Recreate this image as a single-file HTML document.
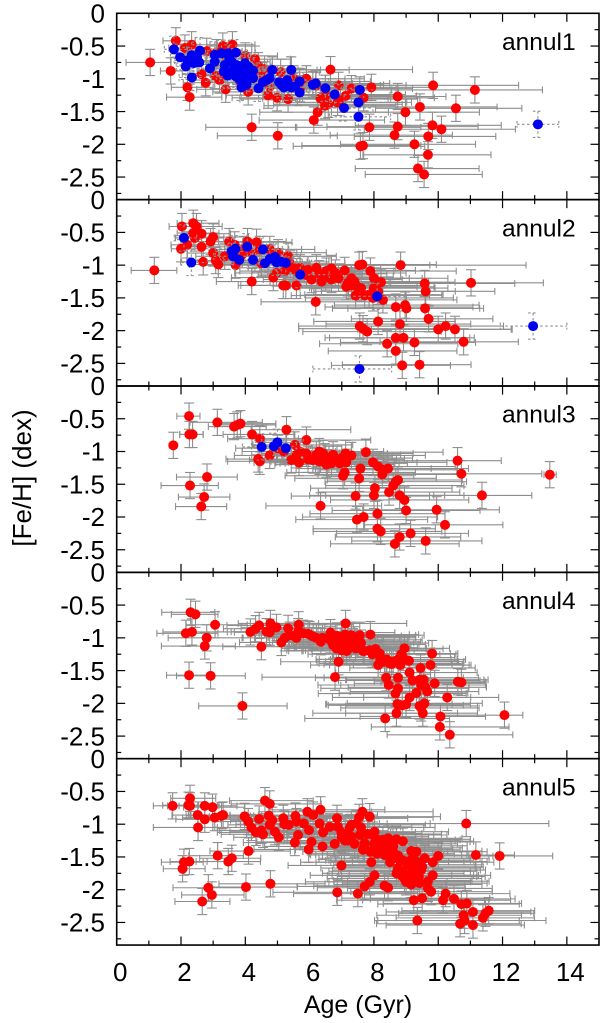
<!DOCTYPE html>
<html lang="en">
<head>
<meta charset="utf-8">
<title>Age-metallicity relation by annulus</title>
<style>
html,body{margin:0;padding:0;background:#fff;}
svg{display:block;font-family:"Liberation Sans",Arial,sans-serif;}
</style>
</head>
<body>
<svg id="chart" xmlns="http://www.w3.org/2000/svg" width="600" height="1023" viewBox="0 0 600 1023">
  <rect x="0" y="0" width="600" height="1023" fill="#fff"/>
  <g id="marks"></g>
  <g id="frames"></g>
  <text x="358" y="1013" font-size="25" text-anchor="middle" fill="#000">Age (Gyr)</text>
  <text transform="translate(31,478) rotate(-90)" font-size="26" text-anchor="middle" fill="#000">[Fe/H] (dex)</text>
</svg>
<script>
const ageTicks = [0, 2, 4, 6, 8, 10, 12, 14];
const ageMinorTicks = [1, 3, 5, 7, 9, 11, 13];
const fehTicks = [0, -0.5, -1, -1.5, -2, -2.5];
const fehMinorTicks = [-0.25, -0.75, -1.25, -1.75, -2.25, -2.75];
const fehTickLabels = ['0', '-0.5', '-1', '-1.5', '-2', '-2.5'];
const ageTickLabels = ['0', '2', '4', '6', '8', '10', '12', '14'];
const fehError = 0.2;

/* annul1 */
const a1RedAge = [
1.04,1.68,1.84,2.12,2.33,2.2,2.27,2.77,3.39,2.64,
2.8,2.5,3.05,3.3,3.6,3.7,3.2,3.85,4.09,4.2,
5.01,4.4,4.71,4.99,5.33,4.76,4.5,5.1,5.5,5.7,
5.9,6.65,6.13,6.25,6.48,6.58,6.34,6.5,6.87,6.96,
7.12,6.2,6.9,7.3,7.92,7.68,9.84,11.14,8.74,9.43,
10.55,8.98,7.86,8.74,9.82,10.1,8.64,9.69,7.58,7.66,
9.26,9.68,9.37,9.56,
3.1,3.4,4.0,4.3,4.6,4.84,5.12,5.33,5.43,5.43,
5.69,6.1,6.19,6.49,6.78,7.56,7.52,3.57,3.93,4.24];
const a1RedFeh = [
-.75,-.88,-.42,-.53,-.48,-1.13,-1.28,-1.06,-1.16,-.93,
-.58,-.72,-.95,-.5,-.48,-.85,-1.02,-1.05,-1.2,-1.74,
-1.87,-.8,-1.25,-1.29,-1.31,-1.12,-.95,-.9,-1.0,-1.15,
-1.0,-.86,-1.63,-1.51,-1.41,-1.39,-1.3,-1.25,-1.36,-1.31,
-1.26,-1.1,-1.1,-1.15,-1.13,-1.29,-1.1,-1.17,-1.27,-1.43,
-1.45,-1.51,-1.74,-1.73,-1.71,-1.77,-1.86,-1.88,-2.03,-2.02,
-2.0,-2.16,-2.37,-2.46,
-.6,-.65,-.65,-.7,-.85,-.865,-1.09,-1.07,-.865,-1.13,
-1.04,-1.09,-1.07,-1.145,-1.24,-1.17,-1.36,-.74,-.89,-.99];
const a1RedLo = [
.75,.32,.4,.5,.5,.5,.72,.7,.9,.6,
.7,.6,.8,.5,.7,.9,.9,1.0,1.1,1.43,
1.88,1.0,1.3,1.4,1.5,1.3,1.1,1.0,1.2,1.4,
1.4,1.5,1.7,1.8,1.9,1.7,1.8,1.6,1.8,1.8,
1.9,1.5,1.6,1.8,1.9,1.9,2.6,2.6,2.1,2.3,
2.5,2.3,2.3,2.2,2.4,2.4,2.0,2.3,2.09,1.9,
2.3,2.0,1.95,1.83,
.8,.8,.9,1.0,1.1,1.0,1.3,1.4,1.2,1.4,
1.5,1.6,1.6,1.7,1.8,1.9,1.9,.8,1.0,1.1];
const a1RedHi = [
.65,.6,.6,.7,.8,.8,1.0,1.0,1.2,1.0,
1.1,.9,1.2,.9,.7,1.3,1.4,1.4,1.5,1.4,
1.85,1.0,1.6,1.7,1.8,1.5,1.3,1.2,1.6,1.9,
1.8,2.55,2.2,2.2,2.2,2.3,2.1,2.0,2.3,2.4,
2.2,2.0,2.1,1.9,2.0,2.2,2.66,2.1,1.5,2.4,
2.05,2.3,1.6,2.5,2.14,2.3,1.8,2.1,2.0,1.8,
1.9,1.96,1.9,1.81,
1.1,1.0,1.0,1.1,1.3,1.5,2.0,2.0,1.8,2.2,
2.2,2.2,2.3,2.2,2.2,1.2,1.5,1.2,1.3,1.4];
const a1BlueAge = [
1.78,1.97,2.15,2.34,2.33,2.59,2.57,2.4,2.9,3.05,
3.05,3.26,3.47,3.71,3.33,3.36,3.57,3.73,3.7,3.99,
3.93,4.04,4.24,4.24,3.88,4.04,4.41,4.66,4.76,4.84,
5.43,5.12,5.33,5.43,5.69,5.69,6.1,6.19,6.49,6.78,
7.07,7.56,7.52,7.52,13.1,
3.5,3.6,3.85,4.1,4.15,3.45,3.8,2.5,2.2,5.2,
5.55,5.3,5.05,4.55];
const a1BlueFeh = [
-.55,-.67,-.81,-.98,-.64,-.57,-.75,-.76,-.84,-.635,
-.74,-.61,-.61,-.6,-.89,-.79,-.74,-.79,-.96,-.76,
-.89,-.99,-.875,-.99,-1.13,-1.09,-1.145,-1.02,-.99,-.865,
-.865,-1.09,-1.07,-1.13,-1.04,-1.21,-1.09,-1.07,-1.145,-1.24,
-1.445,-1.17,-1.36,-1.58,-1.695,
-.68,-.88,-.85,-.82,-.95,-.95,-1.0,-.68,-.72,-1.13,
-1.12,-1.02,-1.05,-1.05];
const a1BlueLo = [
.3,.3,.3,.4,.4,.4,.4,.4,.4,.5,
.5,.5,.5,.5,.5,.5,.5,.5,.6,.6,
.6,.6,.6,.6,.6,.6,.6,.6,.6,.6,
.7,.7,.7,.7,.7,.7,.8,.8,.8,.8,
.8,.9,.9,.9,.65,
.5,.5,.6,.6,.6,.5,.6,.4,.4,.7,
.7,.7,.7,.6];
const a1BlueHi = [
.4,.4,.4,.5,.5,.5,.5,.5,.6,.6,
.6,.6,.6,.6,.6,.6,.7,.7,.7,.7,
.7,.7,.7,.7,.7,.7,.7,.7,.8,.8,
.8,.8,.8,.8,.9,.9,.9,.9,.9,.9,
.9,1.0,1.0,1.0,.65,
.6,.7,.7,.7,.7,.7,.7,.5,.4,.8,
.9,.8,.8,.7];

/* annul2 */
const a2RedAge = [
1.17,2.03,2.0,2.19,2.38,2.48,2.38,2.43,2.64,2.64,
2.69,2.92,3.0,3.0,3.08,3.16,3.36,3.5,3.67,3.7,
4.07,4.35,4.2,3.95,3.9,4.2,4.45,4.5,4.76,5.02,
5.33,4.87,5.18,5.26,5.59,4.97,5.23,5.49,5.7,5.95,
6.21,6.06,6.37,6.19,6.52,6.68,6.68,6.5,7.09,7.14,
7.19,7.54,7.64,7.89,8.83,8.22,9.58,9.61,11.02,7.3,
7.47,7.43,7.71,7.85,7.97,8.13,8.28,8.68,8.97,9.01,
9.59,9.7,8.13,8.81,7.56,7.66,7.79,10.0,10.23,10.52,
8.68,8.92,8.41,9.26,8.68,10.79,8.88,9.42,
5.6,5.9,6.3,6.8,6.9,7.3,7.6,8.0,7.4,8.0,
5.0,5.4];
const a2RedFeh = [
-1.08,-.41,-.75,-.69,-.36,-.41,-.51,-.585,-.52,-.72,
-.95,-.64,-.57,-.815,-.93,-.99,-.865,-.64,-.69,-1.0,
-.64,-.65,-1.25,-.76,-.84,-.81,-.76,-.97,-.76,-.81,
-.865,-1.19,-1.31,-1.31,-1.31,-1.12,-1.09,-1.04,-1.04,-1.07,
-1.04,-1.22,-1.25,-1.56,-1.09,-1.05,-1.22,-1.18,-1.08,-1.33,
-1.27,-1.0,-.99,-1.09,-1.0,-1.26,-1.28,-1.4,-1.27,-1.31,
-1.33,-1.465,-1.46,-1.45,-1.5,-1.4,-1.53,-1.64,-1.61,-1.66,
-1.66,-1.82,-1.86,-1.9,-1.93,-1.97,-2.015,-1.98,-1.93,-1.98,
-2.11,-2.11,-2.2,-2.18,-2.31,-2.17,-2.53,-2.52,
-1.1,-1.15,-1.13,-1.12,-1.2,-1.2,-1.35,-1.35,-1.25,-1.2,
-.95,-.98];
const a2RedLo = [
.72,.4,.3,.5,.5,.5,.5,.6,.6,.7,
.7,.7,.8,.8,.9,.9,.9,.7,.8,1.0,
.9,.9,1.1,1.0,.9,1.0,1.0,1.2,1.0,1.1,
1.1,1.3,1.4,1.4,1.4,1.3,1.4,1.4,1.4,1.5,
1.5,1.5,1.6,1.7,1.6,1.6,1.7,1.6,1.7,1.8,
1.8,1.7,1.7,1.8,2.3,2.0,2.4,2.4,2.5,1.9,
1.9,2.0,2.0,2.0,2.1,2.0,2.1,2.2,2.2,2.3,
2.4,2.4,2.0,2.3,1.9,2.0,2.0,2.5,2.5,2.6,
2.2,2.3,2.1,2.3,2.1,2.6,2.2,2.4,
1.4,1.5,1.6,1.7,1.7,1.8,1.9,2.0,1.8,1.9,
1.2,1.3];
const a2RedHi = [
.7,.6,.6,.7,.8,.8,.8,.9,.9,1.0,
1.0,1.0,1.1,1.2,1.2,1.2,1.3,1.0,1.2,1.3,
1.2,1.1,1.5,1.2,1.3,1.4,1.3,1.5,1.4,1.5,
1.5,1.6,1.8,1.8,1.9,1.7,1.8,1.8,1.9,2.0,
2.0,2.0,2.1,2.2,2.1,2.0,2.2,2.1,2.2,2.2,
2.3,2.2,2.3,2.67,3.9,2.3,2.8,2.15,2.25,2.2,
2.4,2.3,2.4,2.3,2.5,2.4,2.3,2.4,2.3,2.4,
1.7,2.0,2.4,2.2,2.5,2.4,2.3,2.3,1.8,1.75,
2.3,2.2,2.2,1.9,1.9,1.7,1.5,1.6,
2.0,2.1,2.1,2.2,2.2,2.2,2.3,2.3,2.3,2.3,
1.6,1.7];
const a2BlueAge = [2.09,2.32,3.57,3.69,3.62,3.81,4.06,4.24,4.55,4.61,4.76,4.92,4.97,5.12,5.26,5.71,8.1,7.55,12.95];
const a2BlueFeh = [-.585,-.96,-.79,-.75,-.865,-.92,-.72,-.92,-.76,-.97,-.905,-.875,-.957,-.95,-.967,-1.145,-1.476,-2.585,-1.93];
const a2BlueLo = [.3,.3,.5,.5,.6,.5,.6,.6,.5,.7,.6,.7,.7,.7,.7,.7,.9,1.45,1.02];
const a2BlueHi = [.4,.5,.6,.6,.7,.7,.6,.7,.8,.7,.7,.8,.8,.8,.8,.9,.9,1.0,1.05];

/* annul3 */
const a3RedAge = [
1.76,2.25,2.26,2.36,3.13,3.65,3.75,3.85,2.81,2.28,
2.72,2.63,4.21,4.45,5.28,5.9,4.4,4.45,4.76,6.34,
5.54,5.43,5.67,5.7,5.9,6.1,6.21,6.42,6.47,6.52,
6.68,6.73,6.94,7.12,7.14,7.09,7.04,7.3,7.75,7.97,
8.13,8.28,8.44,8.26,7.58,7.54,10.6,10.72,13.47,8.75,
8.68,8.6,8.03,8.47,8.0,7.43,8.8,8.95,11.36,8.11,
9.0,9.95,7.68,7.47,10.21,8.11,8.21,9.14,8.8,8.65,
9.61,
5.0,5.2,5.6,6.3,6.6,6.85,6.3,7.0,6.55,5.95];
const a3RedFeh = [
-.906,-.46,-.74,-.74,-.555,-.62,-.595,-.575,-1.39,-1.52,
-1.695,-1.84,-.74,-.805,-.667,-.825,-1.115,-1.15,-1.06,-1.83,
-.9,-1.13,-1.17,-1.0,-1.03,-1.13,-1.05,-1.03,-1.08,-1.2,
-1.18,-1.05,-1.18,-1.03,-1.165,-1.32,-1.37,-1.06,-1.01,-1.165,
-1.23,-1.28,-1.26,-1.35,-1.26,-1.41,-1.14,-1.34,-1.354,-1.435,
-1.46,-1.52,-1.56,-1.62,-1.67,-1.68,-1.67,-1.74,-1.67,-1.95,
-1.9,-1.89,-2.0,-2.04,-2.12,-2.18,-2.22,-2.25,-2.305,-2.41,
-2.365,
-.95,-1.0,-1.05,-1.15,-1.12,-1.12,-1.0,-1.1,-1.17,-1.12];
const a3RedLo = [
.1,.38,.3,.4,.85,.8,.7,.8,.95,.9,
.8,.8,.9,1.0,1.1,1.3,1.0,1.0,1.1,1.7,
1.3,1.3,1.4,1.3,1.4,1.5,1.4,1.5,1.5,1.6,
1.6,1.6,1.7,1.7,1.8,1.8,1.8,1.8,1.9,2.0,
2.0,2.1,2.1,2.0,2.0,2.0,2.3,2.5,.18,2.2,
2.2,2.1,2.0,2.2,2.0,2.0,2.3,2.3,1.5,2.1,
2.3,2.3,1.9,1.9,2.5,2.0,2.1,2.3,2.0,2.0,
2.3,
1.3,1.3,1.4,1.5,1.6,1.7,1.5,1.7,1.6,1.5];
const a3RedHi = [
.1,.34,.43,.33,1.4,1.0,1.2,1.1,.94,.88,
.8,.79,1.3,1.2,2.0,2.0,1.5,1.5,1.6,1.9,
1.8,1.9,2.0,1.9,1.9,2.0,2.0,2.0,2.1,2.1,
2.1,2.1,2.1,2.1,2.2,2.2,2.2,2.3,2.4,2.3,
2.4,2.3,2.5,2.4,2.2,2.4,1.36,2.5,.2,2.0,
2.2,2.2,2.4,2.2,2.2,2.3,2.0,2.0,1.55,2.1,
2.3,1.95,2.3,2.2,1.8,1.8,1.9,1.8,1.9,2.0,
1.75,
1.5,1.6,1.9,2.0,2.1,2.1,2.0,2.2,2.1,2.0];
const a3BlueAge = [4.51,4.89,5.0,5.26];
const a3BlueFeh = [-.93,-.92,-.86,-.95];
const a3BlueLo = [.6,.7,.7,.8];
const a3BlueHi = [.7,.7,.8,.8];

/* annul4 */
const a4RedAge = [
2.3,2.45,3.06,2.15,2.34,2.8,2.74,2.25,2.92,3.91,
4.16,4.32,4.43,4.66,4.76,4.78,4.97,4.5,5.12,5.23,
5.33,5.38,5.59,5.66,5.64,5.95,6.11,6.21,6.35,6.65,
6.63,6.73,6.83,6.99,7.12,6.99,7.14,7.19,6.9,6.79,
7.3,7.56,7.89,7.35,7.43,7.66,7.87,8.05,8.18,8.13,
8.33,8.49,8.75,8.91,9.09,8.95,8.82,9.81,9.76,9.45,
9.11,8.38,8.75,8.46,8.75,8.67,9.42,9.55,9.47,9.6,
9.66,9.89,10.61,10.72,9.32,9.11,10.28,9.0,8.73,8.88,
9.42,9.57,9.52,9.47,8.7,8.35,10.07,12.06,10.05,10.36,
6.8,6.95,7.05,7.1,7.2,7.25,6.85,7.0,7.15,7.3,
7.4,7.5,7.6,7.95,8.4,8.6,8.85,8.55,8.2,9.2,
6.0,6.4,5.8,7.7];
const a4RedFeh = [
-.61,-.64,-.8,-.93,-.91,-1.0,-1.125,-1.57,-1.58,-2.04,
-.91,-.86,-.81,-.905,-.915,-.78,-.84,-1.135,-1.07,-1.0,
-.855,-.96,-1.0,-.8,-.905,-.94,-.98,-1.0,-1.06,-.92,
-1.03,-1.11,-1.16,-1.19,-.78,-1.0,-1.08,-.98,-1.365,-1.6,
-.96,-.96,-.95,-1.06,-1.16,-1.2,-1.19,-1.17,-1.24,-1.415,
-1.365,-1.39,-1.33,-1.3,-1.35,-1.16,-1.415,-1.24,-1.415,-1.46,
-1.53,-1.61,-1.61,-1.72,-1.77,-1.85,-1.64,-1.64,-1.72,-1.755,
-1.82,-1.695,-1.67,-1.68,-1.84,-1.91,-1.91,-2.015,-2.01,-2.03,
-2.04,-2.0,-2.15,-2.07,-2.15,-2.23,-2.2,-2.18,-2.36,-2.48,
-1.0,-1.05,-1.13,-.95,-1.0,-1.15,-.97,-1.15,-1.2,-1.1,
-1.03,-1.1,-1.08,-1.25,-1.33,-1.36,-1.25,-1.4,-1.33,-1.65,
-.95,-1.0,-.93,-1.2];
const a4RedLo = [
.9,.75,.9,.9,.9,1.2,1.35,.7,1.06,1.36,
1.1,1.0,1.0,1.1,1.1,1.0,1.1,1.2,1.3,1.3,
1.1,1.3,1.3,1.2,1.3,1.3,1.4,1.5,1.5,1.5,
1.6,1.6,1.7,1.7,1.6,1.7,1.7,1.7,1.8,2.27,
1.8,1.8,1.8,1.9,1.9,1.9,2.0,2.0,2.1,2.1,
2.1,2.2,2.1,2.2,2.3,2.2,2.2,2.3,2.4,2.2,
2.3,2.2,2.3,2.2,2.4,2.4,2.3,2.4,2.5,2.4,
2.4,2.5,2.6,2.5,2.4,2.4,2.6,2.5,2.2,2.3,
2.3,2.4,2.4,2.5,2.6,2.5,2.5,2.0,2.13,1.95,
1.6,1.6,1.7,1.6,1.7,1.7,1.6,1.7,1.8,1.8,
1.8,1.8,1.9,2.0,2.1,2.1,2.1,2.1,2.0,2.3,
1.4,1.5,1.3,1.9];
const a4RedHi = [
.75,.7,1.0,1.0,1.1,1.1,.95,.6,1.08,1.39,
1.4,1.5,1.4,1.4,1.5,1.5,1.5,1.5,1.6,1.7,
1.7,1.7,1.7,1.7,1.8,1.8,1.9,1.9,1.9,2.0,
2.0,2.1,2.1,2.1,1.9,2.1,2.1,2.1,2.3,2.3,
2.0,2.0,1.5,2.1,2.2,2.1,2.0,2.1,2.2,2.3,
2.3,2.3,2.1,1.6,1.5,1.4,2.2,.8,1.2,1.7,
2.1,2.4,2.5,2.5,2.2,2.2,2.0,2.0,2.0,1.9,
1.6,1.6,.85,.75,1.6,1.9,1.6,2.0,1.7,1.9,
1.8,1.8,1.7,1.8,1.9,2.0,1.4,.57,2.15,1.96,
2.0,2.1,2.1,2.0,2.1,2.1,2.0,2.1,2.1,2.1,
2.1,2.1,2.1,2.1,2.2,2.2,1.7,2.2,2.2,2.1,
1.8,1.9,1.8,2.1];

/* annul5 */
const a5RedAge = [
1.74,2.28,2.28,2.23,2.52,2.53,2.74,2.74,2.98,3.05,
3.26,3.31,3.14,2.26,2.09,2.05,3.47,3.58,2.85,2.96,
2.66,4.02,4.78,4.1,3.98,4.09,4.19,4.33,4.55,4.5,
4.43,4.61,4.76,4.73,4.84,4.76,4.92,5.04,5.18,5.21,
5.35,5.56,5.59,5.64,5.54,5.82,5.98,5.93,6.11,6.34,
6.31,6.42,6.06,5.97,6.4,6.78,6.63,6.85,6.88,6.99,
6.99,6.86,7.19,7.64,7.54,7.45,7.3,7.3,7.87,8.02,
7.97,7.56,7.71,7.66,7.89,7.92,8.13,8.28,8.44,8.59,
8.7,8.9,8.28,8.33,8.49,8.59,8.75,8.85,8.95,9.16,
9.32,9.06,9.32,9.58,10.0,9.83,9.21,9.47,9.26,9.16,
9.42,9.83,9.68,9.68,9.78,10.87,11.17,11.91,8.02,7.87,
7.71,7.5,8.33,8.44,9.24,9.5,10.23,10.15,10.49,10.72,
10.89,10.79,10.82,10.68,11.08,11.08,11.39,11.47,11.57,9.35,
7.1,7.25,7.4,7.6,7.8,8.0,8.15,8.3,8.45,8.6,
8.75,8.9,9.05,9.2,9.35,9.5,8.5,8.7,8.9,9.1,
9.3,9.0,8.8,9.15,9.4,7.0,7.2,7.7,8.1,8.6];
const a5RedFeh = [
-.72,-.605,-.72,-.71,-.86,-1.05,-.72,-.925,-.74,-.9,
-.87,-.86,-1.48,-1.57,-1.58,-1.68,-1.57,-1.52,-1.97,-2.08,
-2.18,-1.96,-1.91,-1.41,-.88,-.96,-1.05,-1.125,-1.155,-1.095,
-.92,-.64,-.69,-.87,-.94,-1.01,-1.115,-1.2,-.91,-1.0,
-1.01,-.875,-.96,-1.165,-1.28,-.99,-1.09,-.81,-.86,-.78,
-.99,-1.125,-1.27,-1.385,-1.34,-1.3,-1.04,-.91,-1.04,-1.125,
-1.63,-2.04,-1.14,-.81,-.895,-.99,-1.01,-1.19,-.885,-1.115,
-1.165,-1.165,-1.29,-1.39,-1.42,-1.58,-1.24,-1.24,-1.215,-1.27,
-1.23,-1.26,-1.39,-1.47,-1.47,-1.52,-1.67,-1.78,-1.83,-1.41,
-1.42,-1.57,-1.57,-1.52,-1.485,-1.58,-1.7,-1.7,-1.8,-1.92,
-1.9,-1.78,-1.87,-1.98,-2.03,-.99,-1.47,-1.485,-1.78,-1.88,
-1.95,-2.06,-1.94,-1.97,-2.16,-2.13,-2.06,-2.16,-2.14,-2.22,
-2.21,-2.39,-2.47,-2.52,-2.34,-2.54,-2.43,-2.36,-2.32,-2.47,
-1.25,-1.05,-1.3,-1.05,-1.15,-1.3,-1.38,-1.3,-1.36,-1.42,
-1.48,-1.55,-1.62,-1.52,-1.62,-1.65,-1.58,-1.75,-1.72,-1.78,
-1.72,-1.88,-1.55,-1.86,-1.8,-1.2,-1.25,-1.35,-1.45,-1.33];
const a5RedLo = [
.6,.6,.7,.8,.8,1.39,.8,.9,.9,1.0,
1.1,1.0,.9,.6,.7,.6,1.0,1.0,1.1,.94,
.85,1.2,1.6,1.2,1.1,1.1,1.2,1.2,1.3,1.3,
1.2,1.1,1.2,1.2,1.3,1.3,1.4,1.4,1.4,1.5,
1.5,1.4,1.5,1.6,1.6,1.5,1.6,1.5,1.6,1.6,
1.7,1.7,1.7,1.7,1.8,1.8,1.8,1.7,1.8,1.8,
1.66,2.0,1.9,1.8,1.9,1.9,1.9,2.0,2.0,2.1,
2.1,2.0,2.0,2.1,2.1,2.2,2.2,2.2,2.3,2.2,
2.3,2.3,2.2,2.3,2.3,2.3,2.4,2.3,2.4,2.4,
2.4,2.4,2.5,2.5,2.5,2.5,2.5,2.5,2.4,2.4,
2.4,2.6,2.5,2.5,2.5,2.7,1.0,.66,2.0,2.0,
2.1,2.0,2.2,2.2,2.4,2.5,2.6,2.5,2.6,2.6,
2.6,2.7,2.7,2.6,2.7,2.7,2.7,2.7,2.7,1.33,
1.9,1.8,1.9,1.9,2.0,2.0,2.1,2.1,2.1,2.2,
2.2,2.3,2.3,2.4,2.4,2.4,2.3,2.3,2.3,2.4,
2.4,2.4,2.3,2.4,2.4,1.8,1.9,2.0,2.1,2.2];
const a5RedHi = [
.8,.8,.9,.9,1.0,.6,1.0,1.1,1.0,1.1,
1.0,1.1,.8,.55,.6,.7,1.0,.9,1.2,1.0,
.86,1.6,1.7,1.3,1.5,1.5,1.6,1.6,1.7,1.7,
1.6,1.5,1.6,1.7,1.7,1.8,1.8,1.9,1.8,1.9,
1.9,1.9,2.0,2.0,2.1,2.0,2.1,2.0,2.0,2.0,
2.1,2.1,2.2,2.2,2.2,2.2,2.2,2.2,2.3,2.3,
2.3,2.5,2.3,2.2,2.3,2.3,2.3,2.4,2.2,2.3,
2.3,2.3,2.4,2.4,2.4,2.4,2.4,2.4,2.3,2.4,
2.3,2.2,2.4,2.4,2.4,2.4,2.4,2.4,2.4,2.2,
2.2,2.3,2.2,2.0,1.7,1.9,2.1,2.0,2.2,2.2,
2.1,1.8,1.9,2.0,1.9,2.57,1.2,1.65,2.4,2.4,
2.4,2.5,2.5,2.4,2.2,2.1,2.0,2.1,1.9,1.8,
1.7,1.8,1.7,1.9,1.8,1.6,1.6,1.5,1.43,4.0,
2.2,2.3,2.3,2.3,2.3,2.4,2.3,2.3,2.3,2.3,
2.2,2.2,2.1,2.1,2.0,1.9,2.3,2.1,2.1,2.0,
1.9,2.0,2.2,1.9,1.8,2.3,2.3,2.4,2.4,2.3];

const panelNames = ['annul1', 'annul2', 'annul3', 'annul4', 'annul5'];
const redSeries = [
  [a1RedAge, a1RedFeh, a1RedLo, a1RedHi],
  [a2RedAge, a2RedFeh, a2RedLo, a2RedHi],
  [a3RedAge, a3RedFeh, a3RedLo, a3RedHi],
  [a4RedAge, a4RedFeh, a4RedLo, a4RedHi],
  [a5RedAge, a5RedFeh, a5RedLo, a5RedHi]
];
const blueSeries = [
  [a1BlueAge, a1BlueFeh, a1BlueLo, a1BlueHi],
  [a2BlueAge, a2BlueFeh, a2BlueLo, a2BlueHi],
  [a3BlueAge, a3BlueFeh, a3BlueLo, a3BlueHi],
  [],
  []
];

const NS = 'http://www.w3.org/2000/svg';
const plotLeft = 116.7, plotRight = 599, firstTop = 13.3, panelHeight = 186.35;
const ageMax = 15, fehPerPanel = 2.845;
const marks = document.getElementById('marks');
const frames = document.getElementById('frames');

function xScale(age) { return plotLeft + (age / ageMax) * (plotRight - plotLeft); }
function panelTop(p) { return firstTop + p * panelHeight; }
function yScale(p, feh) { return panelTop(p) + (-feh / fehPerPanel) * panelHeight; }

function drawLine(parent, name, x1, y1, x2, y2, color, width, dash) {
  const l = document.createElementNS(NS, 'line');
  
  
  l.setAttribute('x1', x1.toFixed(2));
  l.setAttribute('y1', y1.toFixed(2));
  l.setAttribute('x2', x2.toFixed(2));
  l.setAttribute('y2', y2.toFixed(2));
  l.setAttribute('stroke', color);
  l.setAttribute('stroke-width', width);
  if (dash) l.setAttribute('stroke-dasharray', dash);
  parent.appendChild(l);
}

function drawText(parent, name, str, x, y, anchor, size) {
  const t = document.createElementNS(NS, 'text');
  
  
  t.setAttribute('x', x);
  t.setAttribute('y', y);
  t.setAttribute('text-anchor', anchor);
  t.setAttribute('font-size', size);
  t.setAttribute('fill', '#000');
  t.textContent = str;
  parent.appendChild(t);
}

function drawBars(parent, p, s, dash, name) {
  const capX = 3.4, capY = 5;
  for (let i = 0; i < s[0].length; i++) {
    const age = s[0][i], feh = s[1][i];
    const cx = xScale(age), cy = yScale(p, feh);
    const xl = xScale(age - s[2][i]), xh = xScale(age + s[3][i]);
    const yt = yScale(p, feh + fehError), yb = yScale(p, feh - fehError);
    const g = document.createElementNS(NS, 'g');
    
    
    const col = '#8e8e8e';
    drawLine(g, 'age-error-line', xl, cy, xh, cy, col, 1.1, dash);
    drawLine(g, 'age-error-cap-low', xl, cy - capX, xl, cy + capX, col, 1.1, dash);
    drawLine(g, 'age-error-cap-high', xh, cy - capX, xh, cy + capX, col, 1.1, dash);
    drawLine(g, 'feh-error-line', cx, yt, cx, yb, col, 1.1, dash);
    drawLine(g, 'feh-error-cap-top', cx - capY, yt, cx + capY, yt, col, 1.1, dash);
    drawLine(g, 'feh-error-cap-bottom', cx - capY, yb, cx + capY, yb, col, 1.1, dash);
    parent.appendChild(g);
  }
}

function drawPoints(parent, p, s, color, name, r) {
  for (let i = 0; i < s[0].length; i++) {
    const c = document.createElementNS(NS, 'circle');
    
    
    c.setAttribute('cx', xScale(s[0][i]).toFixed(2));
    c.setAttribute('cy', yScale(p, s[1][i]).toFixed(2));
    c.setAttribute('r', r);
    c.setAttribute('fill', color);
    parent.appendChild(c);
  }
}

panelNames.forEach(function (label, p) {
  const g = document.createElementNS(NS, 'g');
  
  
  marks.appendChild(g);
  drawBars(g, p, redSeries[p], null, 'red-error-bars');
  drawPoints(g, p, redSeries[p], '#ff0000', 'red-point', 5);
  if (blueSeries[p].length) {
    drawBars(g, p, blueSeries[p], '2.5 2.5', 'blue-error-bars');
    drawPoints(g, p, blueSeries[p], '#0000f0', 'blue-point', 5);
  }

  const top = panelTop(p), bottom = panelTop(p + 1);
  const f = document.createElementNS(NS, 'g');
  
  
  frames.appendChild(f);

  const rect = document.createElementNS(NS, 'rect');
  
  
  rect.setAttribute('x', plotLeft);
  rect.setAttribute('y', top.toFixed(2));
  rect.setAttribute('width', plotRight - plotLeft);
  rect.setAttribute('height', panelHeight);
  rect.setAttribute('fill', 'none');
  rect.setAttribute('stroke', '#000');
  rect.setAttribute('stroke-width', 1.6);
  f.appendChild(rect);

  ageTicks.forEach(function (v) {
    const x = xScale(v);
    drawLine(f, 'x-major-tick', x, top, x, top + 8.5, '#000', 1.2);
    drawLine(f, 'x-major-tick', x, bottom, x, bottom - 8.5, '#000', 1.2);
  });
  ageMinorTicks.forEach(function (v) {
    const x = xScale(v);
    drawLine(f, 'x-minor-tick', x, top, x, top + 4.5, '#000', 1.2);
    drawLine(f, 'x-minor-tick', x, bottom, x, bottom - 4.5, '#000', 1.2);
  });
  fehTicks.forEach(function (v, i) {
    const y = yScale(p, v);
    drawLine(f, 'y-major-tick', plotLeft, y, plotLeft + 8.5, y, '#000', 1.2);
    drawLine(f, 'y-major-tick', plotRight, y, plotRight - 8.5, y, '#000', 1.2);
    drawText(f, 'y-tick-label', fehTickLabels[i], 105, (y + 9.2).toFixed(1), 'end', 26);
  });
  fehMinorTicks.forEach(function (v) {
    const y = yScale(p, v);
    drawLine(f, 'y-minor-tick', plotLeft, y, plotLeft + 4.5, y, '#000', 1.2);
    drawLine(f, 'y-minor-tick', plotRight, y, plotRight - 4.5, y, '#000', 1.2);
  });
  drawText(f, label + '-label', label, 502, (top + 36.7).toFixed(1), 'start', 24.5);
});

ageTicks.forEach(function (v, i) {
  drawText(frames, 'x-tick-label', ageTickLabels[i], (xScale(v) + 3.5).toFixed(1), 981, 'middle', 26);
});
</script>
</body>
</html>
